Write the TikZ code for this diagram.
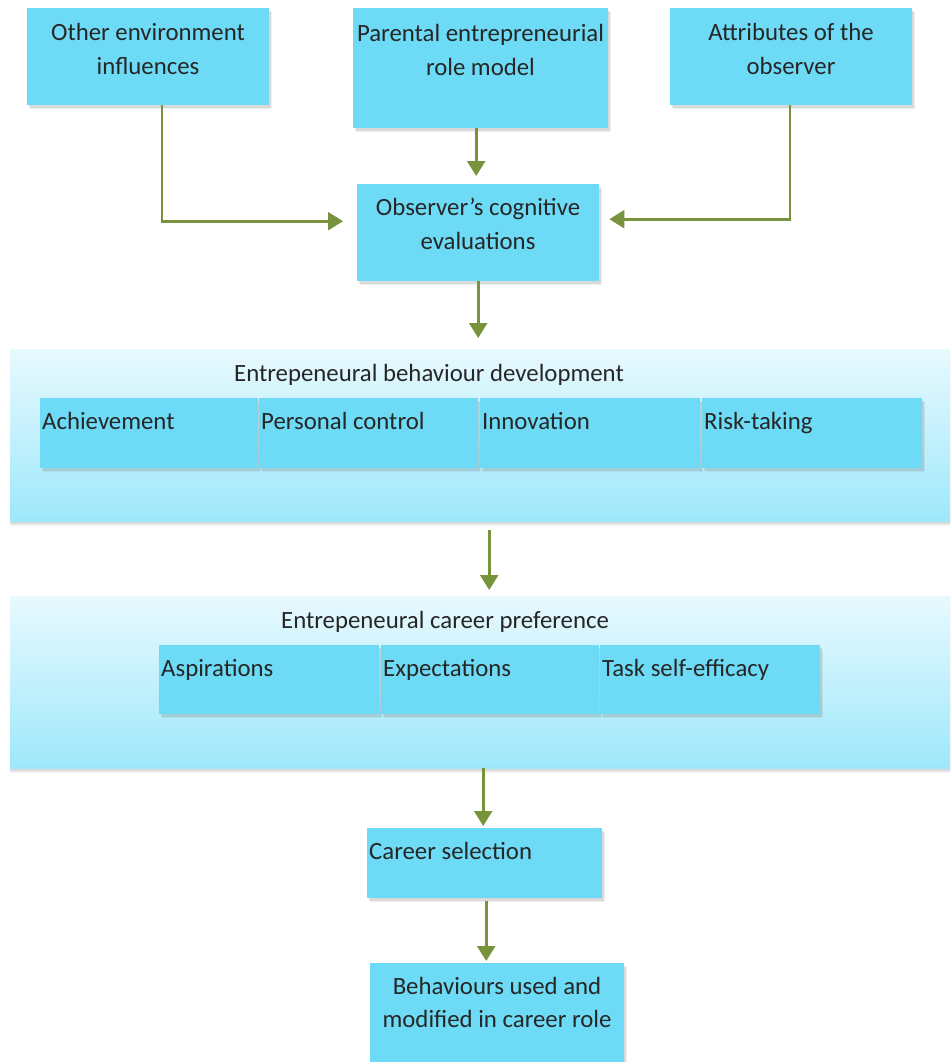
\documentclass[tikz,border=0pt]{standalone}
\usepackage{fontspec}
\setmainfont{Carlito}
\usetikzlibrary{arrows.meta,shadows,calc}
\definecolor{boxblue}{HTML}{6DDBF5}
\definecolor{paneltop}{HTML}{E8F9FE}
\definecolor{panelbot}{HTML}{9EE8FB}
\definecolor{arrowgreen}{HTML}{77933C}
\definecolor{ink}{HTML}{262626}
\begin{document}
\begin{tikzpicture}[x=1pt,y=-1pt,
  every node/.style={font=\fontsize{24.8}{33.5}\selectfont, text=ink},
  soft shadow/.style={
    drop shadow={shadow xshift=2.5pt, shadow yshift=-4pt, opacity=0.12},
    drop shadow={shadow xshift=1.5pt, shadow yshift=-2.5pt, opacity=0.2}},
  box/.style={draw=none, fill=boxblue, inner sep=0, anchor=north west, soft shadow},
  panel/.style={draw=none, inner sep=0, anchor=north west,
    top color=paneltop, bottom color=panelbot,
    drop shadow={shadow xshift=0pt, shadow yshift=-5pt, opacity=0.12},
    drop shadow={shadow xshift=0pt, shadow yshift=-3pt, opacity=0.2}},
  lbl/.style={align=center, inner sep=0, anchor=base},
  tag/.style={inner sep=0, anchor=base west},
  flow/.style={draw=arrowgreen, line width=2.6pt, -{Triangle[length=15pt,width=18pt]}},
]
\useasboundingbox (0,0) rectangle (950,1062);
\clip (0,0) rectangle (950,1062);

% top row of influences (label anchors sit on the last line's baseline)
\node[box, minimum width=242, minimum height=97] (oth) at (27,8) {};
\node[lbl] (othT) at (148,74.5) {Other environment\\influences};
\node[box, minimum width=255, minimum height=120] (par) at (353,8) {};
\node[lbl] (parT) at (480.5,75.5) {Parental entrepreneurial\\role model};
\node[box, minimum width=242, minimum height=97] (att) at (670,8) {};
\node[lbl] (attT) at (791,74.5) {Attributes of the\\observer};

% cognitive evaluation
\node[box, minimum width=242, minimum height=97] (obs) at (357,184) {};
\node[lbl] (obsT) at (478,249) {Observer’s cognitive\\evaluations};

% behaviour development panel
\node[panel, minimum width=960, minimum height=172] (pa) at (10,349) {};
\node[lbl] (paT) at (429,381) {Entrepeneural behaviour development};
\node[box, minimum width=218, minimum height=70] (ach) at (40,398) {};
\node[tag] at (42,429) {Achievement};
\node[box, minimum width=219, minimum height=70] (pc) at (259,398) {};
\node[tag] at (261,429) {Personal control};
\node[box, minimum width=220, minimum height=70] (inn) at (480,398) {};
\node[tag] at (482,429) {Innovation};
\node[box, minimum width=220, minimum height=70] (risk) at (702,398) {};
\node[tag] at (704,429) {Risk-taking};

% career preference panel
\node[panel, minimum width=960, minimum height=172] (pb) at (10,596) {};
\node[lbl] (pbT) at (445,628) {Entrepeneural career preference};
\node[box, minimum width=220, minimum height=69] (asp) at (159,645) {};
\node[tag] at (161,676) {Aspirations};
\node[box, minimum width=218, minimum height=69] (exp) at (381,645) {};
\node[tag] at (383,676) {Expectations};
\node[box, minimum width=220, minimum height=69] (tse) at (600,645) {};
\node[tag] at (602,676) {Task self-efficacy};

% career selection and outcome
\node[box, minimum width=235, minimum height=70] (car) at (367,828) {};
\node[tag] (carT) at (369,859) {Career selection};
\node[box, minimum width=254, minimum height=110] (beh) at (370,963) {};
\node[lbl] (behT) at (497,1027.5) {Behaviours used and\\modified in career role};

% connectors
\coordinate (othx) at (162,0);
\coordinate (attx) at (790,0);
\draw[flow, shorten >=14pt] (oth.south -| othx) |- ([yshift=11.5pt]obs.west);
\draw[flow, shorten >=10pt] (att.south -| attx) |- ([yshift=13.5pt]obs.east);
\draw[flow, shorten >=8pt] ([xshift=-2pt]obs.north |- par.south) -- ([xshift=-2pt]obs.north);
\draw[flow, shorten >=11pt] (obs.south) -- (obs.south |- pa.north);
\draw[flow, shorten <=9pt, shorten >=6pt] ([xshift=-1pt]pa.south) -- ([xshift=-1pt]pb.north);
\draw[flow, shorten >=2pt] ([xshift=-1.5pt]car.north |- pb.south) -- ([xshift=-1.5pt]car.north);
\draw[flow, shorten <=3pt, shorten >=2pt] ([xshift=1.5pt]car.south) -- ([xshift=1.5pt]car.south |- beh.north);
\end{tikzpicture}
\end{document}
